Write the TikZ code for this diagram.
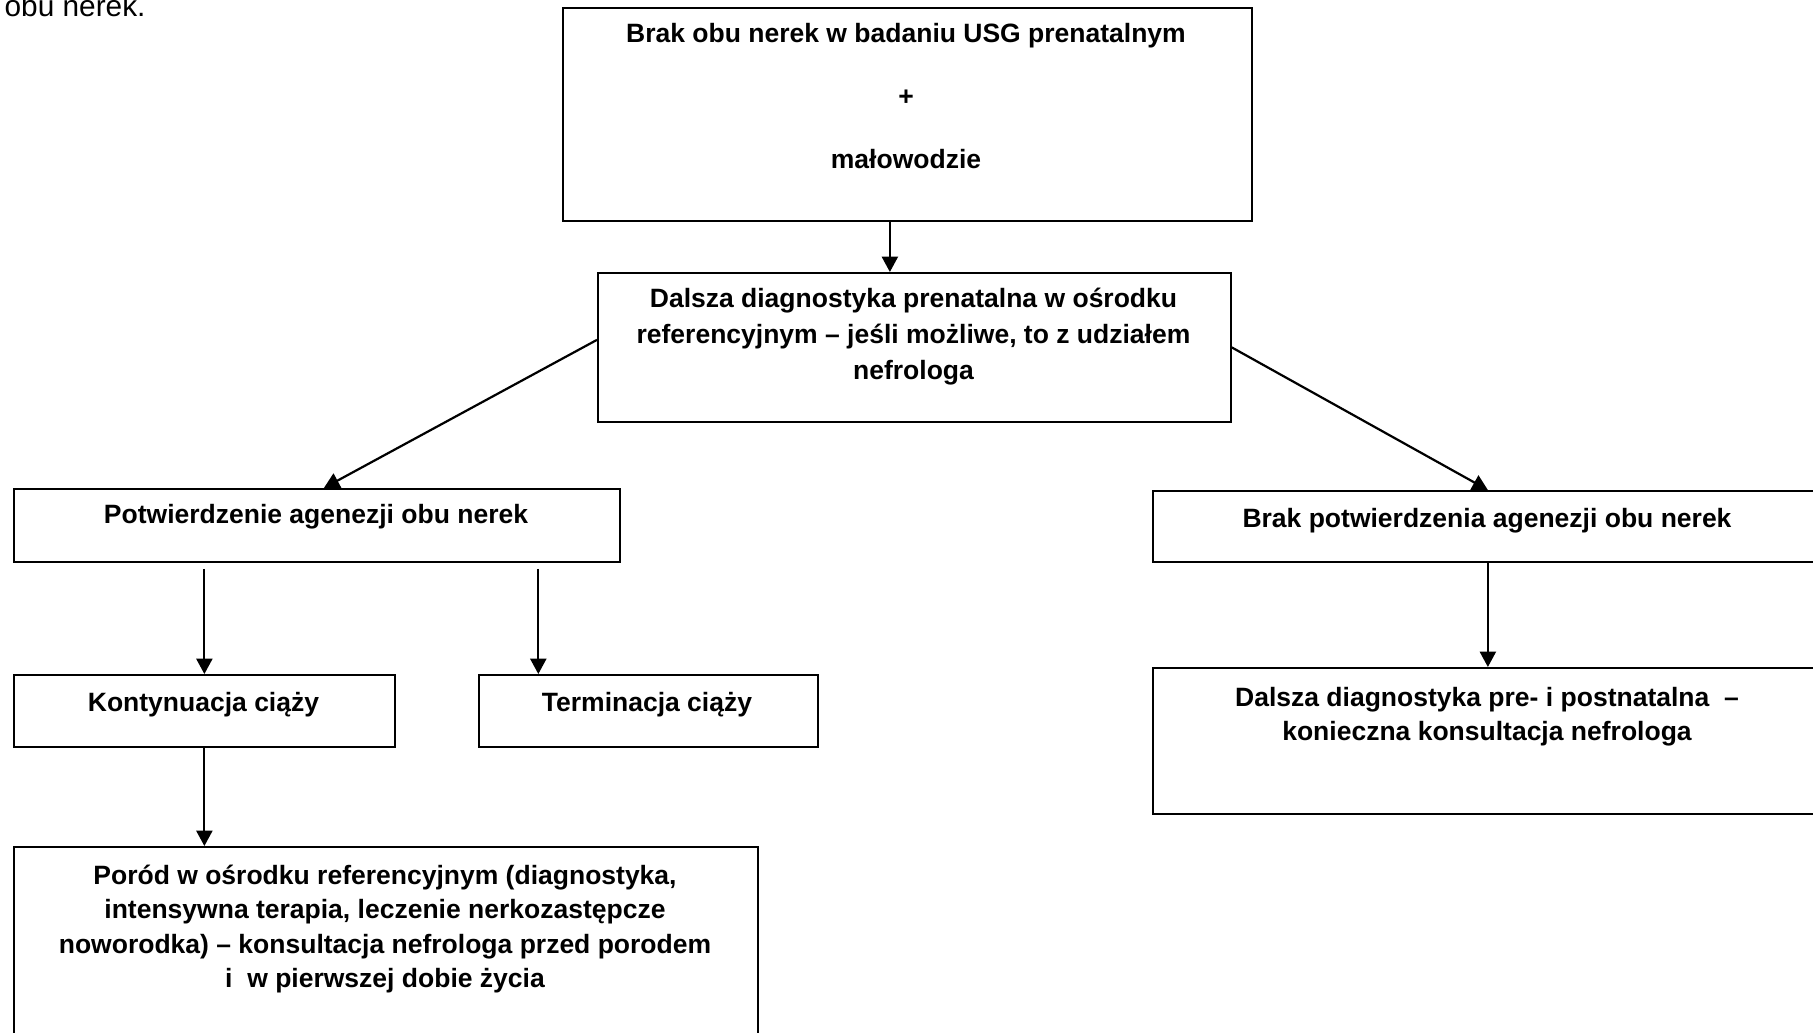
\documentclass[tikz,border=0pt]{standalone}
\usepackage{fontspec}
\setmainfont{Liberation Sans}
\usetikzlibrary{arrows.meta,calc}
% one drawing unit = one pixel of the 1813 x 1032 canvas
\newcommand\pxl[1]{#1*0.4528pt}
\begin{document}
\begin{tikzpicture}[x=0.4528pt, y=-0.4528pt,
  box/.style={draw, line width=0.8pt, inner sep=0pt, anchor=north west},
  txt/.style={font=\bfseries\fontsize{12}{15.8}\selectfont, align=center,
              inner sep=0pt, anchor=north,
              execute at begin node={\rule{0pt}{12pt}}},
  arr/.style={line width=1pt, -{Triangle[length=7pt,width=7.3pt]}}]
\useasboundingbox (0,0) rectangle (1813,1032);
\fill[white] (0,0) rectangle (1813,1032);

% tail of the preceding sentence
\node[font=\fontsize{13.5}{16}\selectfont, anchor=base east, inner sep=0pt]
  (cap) at (146,16) {obu nerek.};

% boxes
\node[box, minimum width=\pxl{689}, minimum height=\pxl{213}] (A) at (562,7) {};
\node[box, minimum width=\pxl{633}, minimum height=\pxl{149}] (B) at (597,272) {};
\node[box, minimum width=\pxl{606}, minimum height=\pxl{73}]  (C) at (13,488) {};
\node[box, minimum width=\pxl{670}, minimum height=\pxl{71}]  (D) at (1152,490) {};
\node[box, minimum width=\pxl{381}, minimum height=\pxl{72}]  (E) at (13,674) {};
\node[box, minimum width=\pxl{339}, minimum height=\pxl{72}]  (T) at (478,674) {};
\node[box, minimum width=\pxl{670}, minimum height=\pxl{146}] (F) at (1152,667) {};
\node[box, minimum width=\pxl{744}, minimum height=\pxl{200}] (G) at (13,846) {};

% box texts
\node[txt] (tA) at (906,23) {Brak obu nerek w badaniu USG prenatalnym\\[12.7pt]+\\[12.7pt]małowodzie};
\node[txt, font=\bfseries\fontsize{12}{16.3}\selectfont] (tB) at (913.5,287.5) {Dalsza diagnostyka prenatalna w ośrodku\\referencyjnym – jeśli możliwe, to z udziałem\\nefrologa};
\node[txt] (tC) at (316,497) {Potwierdzenie agenezji obu nerek};
\node[txt] (tD) at (1487,500.5) {Brak potwierdzenia agenezji obu nerek};
\node[txt] (tE) at (203.5,684.5) {Kontynuacja ciąży};
\node[txt] (tT) at (647,684.5) {Terminacja ciąży};
\node[txt, font=\bfseries\fontsize{12}{15.2}\selectfont] (tF) at (1487,687) {Dalsza diagnostyka pre- i postnatalna~ –\\konieczna konsultacja nefrologa};
\node[txt, font=\bfseries\fontsize{12}{15.6}\selectfont] (tG) at (385,864.5) {Poród w ośrodku referencyjnym (diagnostyka,\\intensywna terapia, leczenie nerkozastępcze\\noworodka) – konsultacja nefrologa przed porodem\\i~ w pierwszej dobie życia};

% connectors
\coordinate (ab) at ($(A.south)+(-17.5,0)$);
\draw[arr] (ab) -- (ab |- B.north);
\draw[arr] ($(B.north west)!0.45!(B.south west)$) -- ($(C.north)+(7,0)$);
\draw[arr] (B.east) -- (D.north);
\draw[arr] ($(C.south -| E.north)+(0,6)$) -- (E.north);
\coordinate (tx) at ($(T.north west)!0.177!(T.north east)$);
\draw[arr] ($(C.south -| tx)+(0,6)$) -- (tx);
\draw[arr] (E.south) -- (E.south |- G.north);
\draw[arr] (D.south) -- (F.north);
\end{tikzpicture}
\end{document}
